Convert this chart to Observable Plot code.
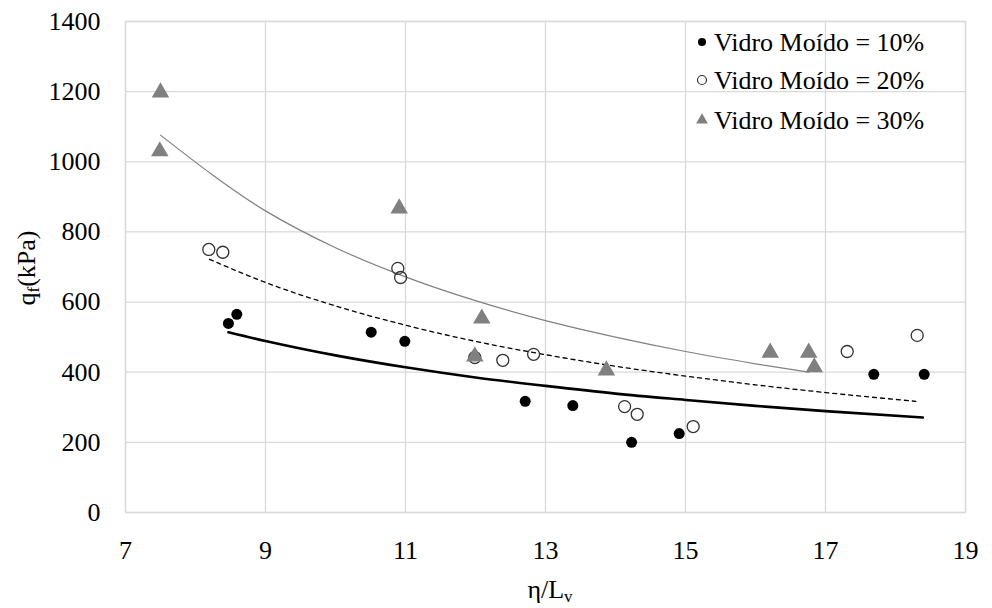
<!DOCTYPE html>
<html>
<head>
<meta charset="utf-8">
<script src="https://cdn.jsdelivr.net/npm/d3@7"></script>
<script src="https://cdn.jsdelivr.net/npm/@observablehq/plot@0.6"></script>
<style>
  html, body { margin: 0; padding: 0; background: #fff; }
  #chart { width: 992px; height: 608px; }
</style>
</head>
<body>
<div id="chart"></div>
<script>
// ---- Data ----
const xTicks = [7, 9, 11, 13, 15, 17, 19];
const yTicks = [0, 200, 400, 600, 800, 1000, 1200, 1400];

const seriesNames = ["Vidro Moído = 10%", "Vidro Moído = 20%", "Vidro Moído = 30%"];

// Vidro Moído = 10% (filled black circles)
const x10 = [8.47, 8.59, 10.51, 10.99, 12.71, 13.39, 14.23, 14.91, 17.69, 18.41];
const y10 = [539, 565, 514, 488, 317, 305, 200, 225, 394, 394];

// Vidro Moído = 20% (open circles)
const x20 = [8.19, 8.39, 10.89, 10.93, 11.99, 12.39, 12.83, 14.13, 14.31, 15.11, 17.31, 18.31];
const y20 = [750, 742, 696, 670, 442, 434, 451, 302, 280, 245, 459, 505];

// Vidro Moído = 30% (grey triangles)
const x30 = [7.50, 7.49, 10.91, 12.09, 11.99, 13.87, 16.21, 16.76, 16.84];
const y30 = [1198, 1030, 867, 553, 445, 405, 456, 456, 414];

// Trend lines
const tx10 = [8.47, 9, 10, 11, 12, 13, 14, 15, 16, 17, 18.39];
const ty10 = [514, 489, 448, 414, 385, 361, 339, 321, 304, 289, 271];

const tx20 = [8.2, 9, 10, 11, 12, 13, 14, 15, 16, 17, 18.29];
const ty20 = [722, 656, 589, 534, 488, 450, 417, 389, 364, 342, 317];

const tx30 = [7.5, 9, 10, 11, 12, 13, 14, 15, 16, 16.76];
const ty30 = [1076, 860, 755, 672, 604, 547, 500, 459, 424, 400];

// ---- Build tables ----
const zip = (xs, ys) => xs.map((x, i) => ({x, y: ys[i]}));
const p10 = zip(x10, y10), p20 = zip(x20, y20), p30 = zip(x30, y30);
const t10 = zip(tx10, ty10), t20 = zip(tx20, ty20), t30 = zip(tx30, ty30);

const FONT = "'Liberation Serif', 'Times New Roman', Times, serif";
const FS = 26;

const chart = Plot.plot({
  width: 992,
  height: 608,
  marginLeft: 125,
  marginRight: 27,
  marginTop: 21,
  marginBottom: 96,
  x: {domain: [7, 19]},
  y: {domain: [0, 1400]},
  style: {fontFamily: FONT, fontSize: FS + "px", background: "#fff", color: "#000"},
  marks: [
    Plot.ruleX(xTicks, {stroke: "#d9d9d9", strokeWidth: 1.3}),
    Plot.ruleY(yTicks, {stroke: "#d9d9d9", strokeWidth: 1.3}),
    Plot.frame({stroke: "#d9d9d9", strokeWidth: 1.3}),
    Plot.axisX({ticks: xTicks, tickSize: 0, tickPadding: 28, label: null, fontSize: FS, tickFormat: d => String(d)}),
    Plot.axisY({ticks: yTicks, tickSize: 0, tickPadding: 25, label: null, fontSize: FS, tickFormat: d => String(d)}),
    Plot.line(t30, {x: "x", y: "y", stroke: "#808080", strokeWidth: 1.2, curve: "monotone-x"}),
    Plot.line(t20, {x: "x", y: "y", stroke: "#000", strokeWidth: 1.3, strokeDasharray: "4,4", curve: "monotone-x"}),
    Plot.line(t10, {x: "x", y: "y", stroke: "#000", strokeWidth: 2.6, curve: "monotone-x"}),
    Plot.dot(p10, {x: "x", y: "y", r: 5.5, fill: "#000", stroke: "none"}),
    Plot.dot(p20, {x: "x", y: "y", r: 6, fill: "none", stroke: "#333", strokeWidth: 1.3}),
    Plot.dot(p30, {x: "x", y: "y", r: 6.5, symbol: "triangle", fill: "#808080", stroke: "none"})
  ]
});

document.getElementById("chart").appendChild(chart);

// ---- Axis titles and legend ----
const svg = d3.select(chart);

// x-axis title: η/Lv
const xt = svg.append("text")
  .attr("x", 550).attr("y", 598)
  .attr("text-anchor", "middle")
  .attr("font-family", FONT).attr("font-size", FS).attr("fill", "#000");
xt.append("tspan").text("η/L");
xt.append("tspan").attr("font-size", 17).attr("dy", 4).text("v");

// y-axis title: qf(kPa)
const yt = svg.append("text")
  .attr("transform", "translate(35,268) rotate(-90)")
  .attr("text-anchor", "middle")
  .attr("font-family", FONT).attr("font-size", FS).attr("fill", "#000");
yt.append("tspan").text("q");
yt.append("tspan").attr("font-size", 17).attr("dy", 4).text("f");
yt.append("tspan").attr("dy", -4).text("(kPa)");

// legend
const legendY = [42, 80, 120];
const lg = svg.append("g").attr("text-anchor", "start");
seriesNames.forEach((name, i) => {
  const cy = legendY[i];
  if (i === 0) {
    lg.append("circle").attr("cx", 702).attr("cy", cy).attr("r", 4).attr("fill", "#000");
  } else if (i === 1) {
    lg.append("circle").attr("cx", 702).attr("cy", cy).attr("r", 4.5).attr("fill", "none").attr("stroke", "#333").attr("stroke-width", 1.2);
  } else {
    lg.append("path").attr("d", d3.symbol(d3.symbolTriangle, 60)()).attr("transform", `translate(702,${cy})`).attr("fill", "#808080");
  }
  lg.append("text").attr("x", 714).attr("y", cy + 9)
    .attr("text-anchor", "start")
    .attr("font-family", FONT).attr("font-size", FS).attr("fill", "#000")
    .text(name);
});
</script>
</body>
</html>
